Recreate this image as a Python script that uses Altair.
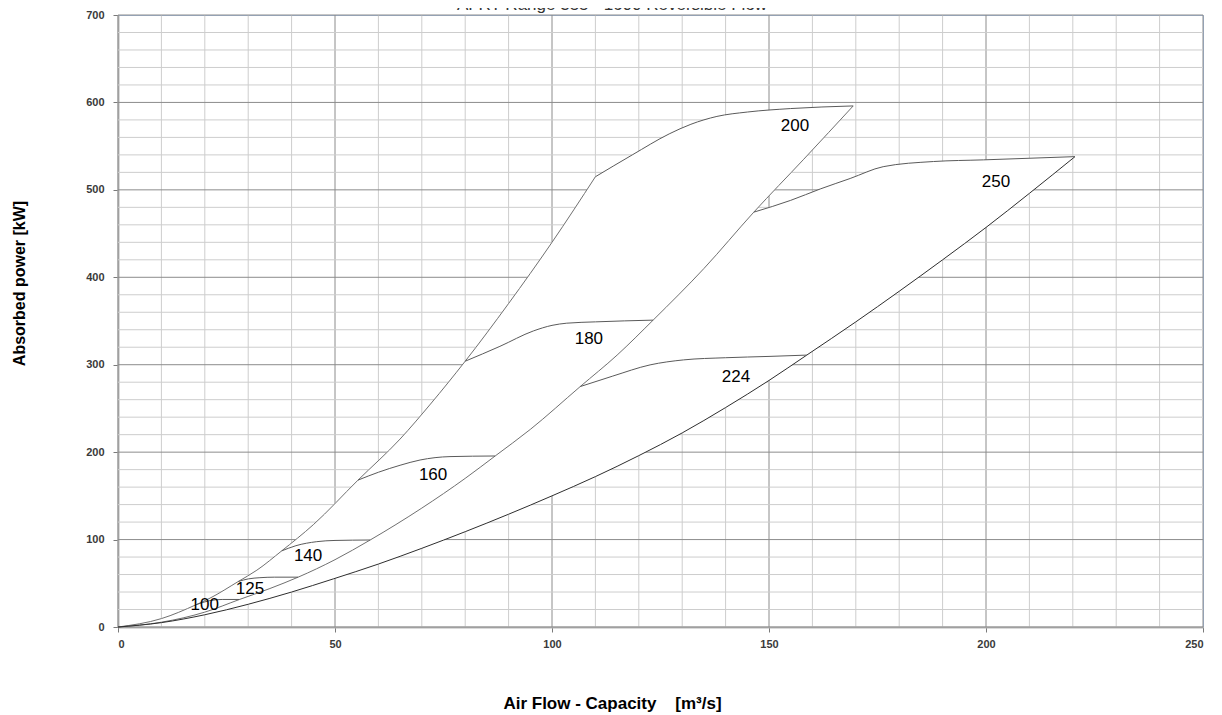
import altair as alt
import pandas as pd

# ---- data ----
# upper envelope of the small fans
A_x = [0, 10, 18, 21.2, 27.7, 32, 37.7, 45, 55.3, 65, 72, 80, 90, 100, 110]
A_y = [0, 9.6, 25.5, 33, 52, 65, 87, 117, 168, 215, 255, 304, 370, 440, 515]
# middle envelope
B_x = [0, 10, 20, 28, 35, 41.5, 50, 58.1, 70, 80, 86.9, 95, 106.5, 115, 123.3, 135, 146.5, 158, 169.4]
B_y = [0, 5.5, 17, 31.5, 44, 57, 77, 99.5, 136, 170, 195.6, 226, 275, 311, 351, 410, 474.5, 535, 596]
# lower envelope
C_x = [0, 10, 20, 30, 40, 49.6, 60, 70, 80, 90, 100, 110, 120, 130, 140, 150, 158.7, 170, 180, 190, 200, 210, 220.5]
C_y = [0, 5, 14, 26, 40, 55, 72, 90, 109, 129, 150, 172, 196, 222, 251, 282, 311, 349, 384, 420, 457, 496, 538]

fan_names = ["100", "125", "140", "160", "180", "200", "224", "250"]
fan_x = {
    "100": [18, 21, 24, 28],
    "125": [27.7, 30, 32.7, 36, 41.5],
    "140": [37.7, 41, 45.8, 50, 58.1],
    "160": [55.3, 60, 65, 69.6, 76.5, 86.9],
    "180": [80, 88, 95.7, 100, 103.4, 110, 123.3],
    "200": [110, 118.5, 127, 132, 138, 145, 155, 169.4],
    "224": [106.5, 114, 122.6, 130.3, 140, 150, 158.7],
    "250": [146.5, 155, 161.8, 168.7, 176.3, 187.9, 199.4, 220.5],
}
fan_y = {
    "100": [25.5, 30, 31.5, 31.5],
    "125": [52, 55, 56.4, 57, 57],
    "140": [87, 93, 97.6, 99, 99.5],
    "160": [168, 177, 185, 191, 194.9, 195.6],
    "180": [304, 321, 338.6, 345, 347.5, 349, 351],
    "200": [515, 540, 564, 575, 584, 589, 593, 596],
    "224": [275, 287, 299.8, 305.5, 308, 309.5, 311],
    "250": [474.5, 488, 501, 513, 526.5, 532.4, 534.3, 538],
}
label_x = [20, 30.4, 43.8, 72.6, 108.5, 156, 142.4, 202.3]
label_y = [25, 43.5, 81, 174, 329.5, 573, 286, 509]

x_ticks = list(range(0, 251, 10))
y_ticks = list(range(0, 701, 20))
x_major = [v for v in x_ticks if v % 50 == 0]
y_major = [v for v in y_ticks if v % 100 == 0]

title_text = "AFRT Range 355 - 1600 Reversible Flow"

# ---- tables ----
rows = []
def add(name, xs, ys, kind):
    for i, (a, b) in enumerate(zip(xs, ys)):
        rows.append({"s": name, "x": a, "y": b, "i": i, "k": kind})

add("A", A_x, A_y, "env")
add("B", B_x, B_y, "env")
add("C", C_x, C_y, "low")
for n in fan_names:
    add("f" + n, fan_x[n], fan_y[n], "fan")
lines = pd.DataFrame(rows)

poly = []
p1 = list(zip(A_x, A_y)) + list(zip(fan_x["200"], fan_y["200"])) + list(zip(B_x, B_y))[::-1]
kb = B_x.index(146.5)
p2 = list(zip(B_x[:kb + 1], B_y[:kb + 1])) + list(zip(fan_x["250"], fan_y["250"])) + list(zip(C_x, C_y))[::-1]
for name, pts in (("p1", p1), ("p2", p2)):
    for i, (a, b) in enumerate(pts):
        poly.append({"p": name, "x": a, "y": b, "i": i})
polys = pd.DataFrame(poly)

labels = pd.DataFrame({"t": fan_names, "x": label_x, "y": label_y})
gx = pd.DataFrame({"x": x_ticks, "major": [v in x_major for v in x_ticks]})
gy = pd.DataFrame({"y": y_ticks, "major": [v in y_major for v in y_ticks]})

xs = alt.Scale(domain=[0, 250], nice=False)
ys = alt.Scale(domain=[0, 700], nice=False)

FONT = "Liberation Sans"

x_axis = alt.Axis(
    values=x_major, title="Air Flow - Capacity \u00a0 \u00a0[m³/s]",
    labelOverlap=False, grid=False,
    tickColor="#7a7a7a", tickSize=5,
    domainColor="#b5b5b5", domainWidth=2,
    labelFont=FONT, labelFontSize=11,
    labelFontWeight="bold", labelColor="#3a3a3a", labelPadding=6,
    titleFont=FONT, titleFontSize=17,
    titleFontWeight="bold", titleColor="#000000",
    titleX=494, titleY=76, titleBaseline="middle", titleAnchor="middle",
)
y_axis = alt.Axis(
    values=y_major, title="Absorbed power [kW]",
    labelOverlap=False, grid=False,
    tickColor="#7a7a7a", tickSize=5,
    domainColor="#b5b5b5", domainWidth=2,
    labelFont=FONT, labelFontSize=11,
    labelFontWeight="bold", labelColor="#3a3a3a", labelPadding=9,
    titleFont=FONT, titleFontSize=16,
    titleFontWeight="bold", titleColor="#000000",
    titleX=-99, titleY=268, titleAngle=-90, titleBaseline="middle", titleAnchor="middle",
)

X = lambda f="x:Q": alt.X(f, scale=xs, axis=x_axis)
Y = lambda f="y:Q": alt.Y(f, scale=ys, axis=y_axis)

grid_color = alt.Color("major:N", scale=alt.Scale(domain=[False, True], range=["#cdcdcd", "#8c8c8c"]), legend=None)
vgrid = alt.Chart(gx).mark_rule(strokeWidth=1).encode(x=X(), color=grid_color)
hgrid = alt.Chart(gy).mark_rule(strokeWidth=1).encode(y=Y(), color=grid_color)

fill = alt.Chart(polys).mark_line(fill="white", stroke="white", strokeOpacity=0, interpolate="linear-closed").encode(
    x=X(), y=Y(), detail="p:N", order="i:Q"
)

curves = alt.Chart(lines).mark_line(strokeWidth=1, interpolate="monotone").encode(
    x=X(), y=Y(),
    detail="s:N", order="i:Q",
    stroke=alt.Stroke("k:N", scale=alt.Scale(domain=["env", "low", "fan"], range=["#707070", "#2e2e2e", "#5a5a5a"]), legend=None),
)

texts = alt.Chart(labels).mark_text(font="Liberation Sans", fontSize=17, color="#000000").encode(
    x=X(), y=Y(), text="t:N"
)

title = alt.Chart(pd.DataFrame({"t": [title_text]})).mark_text(
    font="Liberation Sans", fontSize=17, color="#333333", baseline="alphabetic", align="center"
).encode(x=alt.value(494), y=alt.value(-5), text="t:N")

chart = alt.layer(vgrid, hgrid, fill, curves, texts, title).resolve_scale(color="independent").properties(
    width=1085, height=612,
    padding={"left": 110, "top": 7, "right": 11, "bottom": 95},
    autosize=alt.AutoSizeParams(type="none"),
).configure_view(stroke="#9cb6da", strokeWidth=1)

chart.save("out.html", embed_options={"renderer": "svg", "actions": False})
